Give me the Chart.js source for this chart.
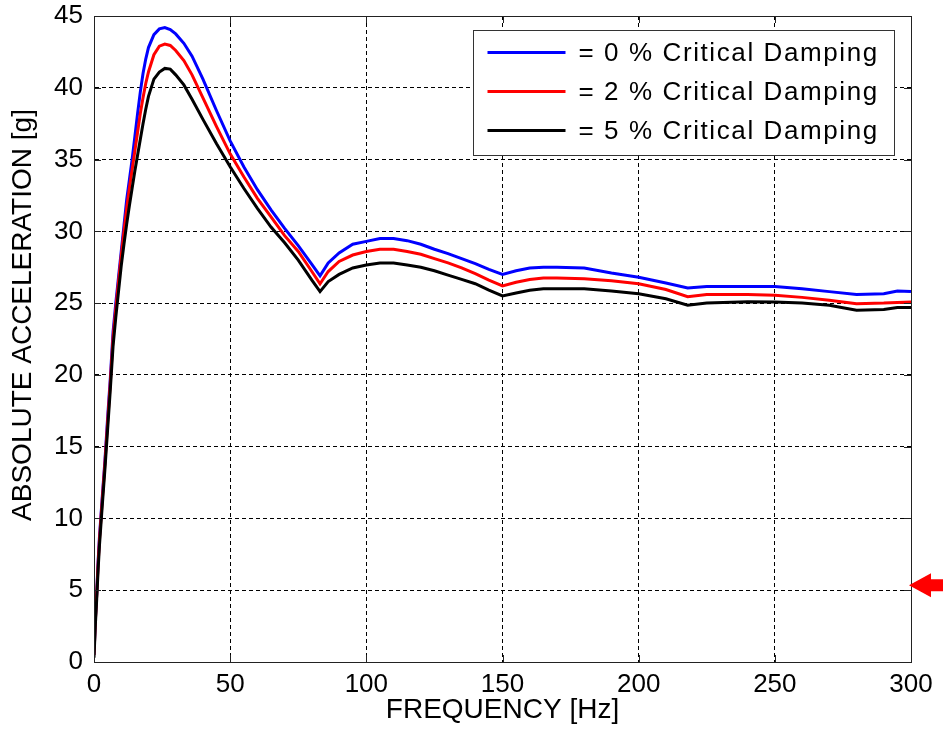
<!DOCTYPE html>
<html lang="en">
  <head>
    <meta charset="UTF-8" />
    <title>Absolute acceleration vs frequency</title>
    <script src="https://cdn.jsdelivr.net/npm/chart.js@4.4.1/dist/chart.umd.min.js"></script>
    <style>
      html, body { margin: 0; padding: 0; background: #fff; }
    </style>
  </head>
  <body>
    <canvas id="chart" width="943" height="742"></canvas>

    <script>
      //data
      const freq = [0, 0.5, 1, 1.5, 2, 3, 4, 5, 6, 7, 8, 9, 10, 11, 12, 13, 14, 15, 16, 17, 18, 19, 20,
        22, 24, 26, 28, 30, 33, 36, 40, 45, 50, 55, 60, 65, 70, 75, 80, 83,
        86, 90, 95, 100, 105, 110, 115, 120, 125, 130, 135, 140, 145, 150,
        155, 160, 165, 170, 180, 190, 200, 210, 218, 225, 240, 250, 260, 270, 280, 290, 295, 300];

      const damp0 = [0.5, 3.0, 4.8, 7, 8.7, 11.4, 14, 17, 19.8, 23, 25, 26.8, 28.6, 30.4, 32.2, 33.6, 35, 36.6, 38.2, 39.7, 41, 42, 42.8,
        43.7, 44.1, 44.2, 44.05, 43.75, 43.1, 42.2, 40.6, 38.4, 36.3, 34.5, 32.9, 31.5, 30.2, 29, 27.7, 26.9,
        27.8, 28.5, 29.1, 29.3, 29.5, 29.5, 29.35, 29.1, 28.75, 28.45, 28.1, 27.75, 27.35, 27.0,
        27.25, 27.45, 27.5, 27.5, 27.45, 27.1, 26.8, 26.4, 26.05, 26.15, 26.15, 26.15, 26.0, 25.8, 25.6, 25.65, 25.85, 25.8];

      const damp2 = [0.5, 2.9, 4.7, 6.8, 8.5, 11.2, 13.8, 16.7, 19.5, 22.6, 24.6, 26.5, 28.3, 30.0, 31.6, 33.0, 34.3, 35.6, 36.9, 38.2, 39.3, 40.3, 41.1,
        42.3, 42.9, 43.05, 42.95, 42.6, 41.9, 40.9, 39.3, 37.3, 35.4, 33.8, 32.3, 31, 29.7, 28.6, 27.2, 26.35,
        27.2, 27.9, 28.35, 28.6, 28.75, 28.75, 28.6, 28.4, 28.1, 27.8, 27.45, 27.05, 26.6, 26.2,
        26.45, 26.65, 26.75, 26.75, 26.7, 26.55, 26.35, 25.95, 25.45, 25.6, 25.6, 25.55, 25.4, 25.2, 24.95, 25.0, 25.05, 25.07];

      const damp5 = [0.3, 2.6, 4.4, 6.4, 8.1, 10.8, 13.4, 16.2, 19, 22, 24, 25.8, 27.6, 29.1, 30.5, 31.8, 33.0, 34.2, 35.3, 36.4, 37.5, 38.5, 39.4,
        40.6, 41.1, 41.35, 41.3, 40.9, 40.2, 39.2, 37.8, 36.1, 34.5, 33, 31.6, 30.3, 29.2, 28, 26.6, 25.8,
        26.5, 27.0, 27.45, 27.65, 27.8, 27.8, 27.65, 27.5, 27.25, 26.95, 26.65, 26.35, 25.9, 25.5,
        25.7, 25.9, 26.0, 26.0, 26.0, 25.85, 25.65, 25.3, 24.85, 25.0, 25.1, 25.07, 25.0, 24.85, 24.5, 24.55, 24.7, 24.7];

      const seriesLabels = ['= 0 % Critical Damping', '= 2 % Critical Damping', '= 5 % Critical Damping'];
      const seriesColors = ['#0000ff', '#ff0000', '#000000'];

      const FONT = '"Liberation Sans", Arial, Helvetica, sans-serif';

      const toPoints = (ys) => ys.map((y, i) => ({ x: freq[i], y: y }));

      //plugins
      // box + inward ticks on all four sides, like matlab axes
      const axesBox = {
        id: 'axesBox',
        afterDatasetsDraw(chart) {
          const { ctx, chartArea: a, scales } = chart;
          const len = 7;
          ctx.save();
          ctx.strokeStyle = '#222';
          ctx.lineWidth = 1;
          ctx.beginPath();
          scales.x.ticks.forEach((t) => {
            const px = Math.round(scales.x.getPixelForValue(t.value)) + 0.5;
            ctx.moveTo(px, a.top); ctx.lineTo(px, a.top + len);
            ctx.moveTo(px, a.bottom); ctx.lineTo(px, a.bottom - len);
          });
          scales.y.ticks.forEach((t) => {
            const py = Math.round(scales.y.getPixelForValue(t.value)) + 0.5;
            ctx.moveTo(a.left, py); ctx.lineTo(a.left + len, py);
            ctx.moveTo(a.right, py); ctx.lineTo(a.right - len, py);
          });
          ctx.stroke();
          ctx.strokeRect(Math.round(a.left) + 0.5, Math.round(a.top) + 0.5,
            Math.round(a.right - a.left), Math.round(a.bottom - a.top));
          ctx.restore();
        }
      };

      const boxLegend = {
        id: 'boxLegend',
        afterDraw(chart) {
          const { ctx, chartArea: a } = chart;
          const x0 = Math.round(a.right - 438) + 0.5;
          const y0 = Math.round(a.top + 14) + 0.5;
          ctx.save();
          ctx.fillStyle = '#fff';
          ctx.fillRect(x0, y0, 421, 125);
          ctx.strokeStyle = '#333';
          ctx.lineWidth = 1;
          ctx.strokeRect(x0, y0, 421, 125);
          ctx.font = '26px ' + FONT;
          ctx.letterSpacing = '1.6px';
          ctx.textBaseline = 'middle';
          chart.data.datasets.forEach((ds, i) => {
            const ry = y0 + 22 + i * 39;
            ctx.strokeStyle = ds.borderColor;
            ctx.lineWidth = 3;
            ctx.beginPath();
            ctx.moveTo(x0 + 14, ry);
            ctx.lineTo(x0 + 92, ry);
            ctx.stroke();
            ctx.fillStyle = '#000';
            ctx.fillText(ds.label, x0 + 105, ry + 1);
          });
          ctx.restore();
        }
      };

      // y axis title (sits a bit above centre in the original) and the red marker arrow
      const extras = {
        id: 'extras',
        afterDraw(chart) {
          const { ctx, scales } = chart;
          ctx.save();
          ctx.translate(23, 315);
          ctx.rotate(-Math.PI / 2);
          ctx.font = '28px ' + FONT;
          ctx.fillStyle = '#000';
          ctx.textAlign = 'center';
          ctx.textBaseline = 'middle';
          ctx.fillText('ABSOLUTE ACCELERATION [g]', 0, 0);
          ctx.restore();

          const yc = scales.y.getPixelForValue(5) - 5;
          const tip = chart.chartArea.right - 2;
          ctx.save();
          ctx.fillStyle = '#ff0000';
          ctx.beginPath();
          ctx.moveTo(tip, yc);
          ctx.lineTo(tip + 22, yc - 12);
          ctx.lineTo(tip + 22, yc - 6);
          ctx.lineTo(chart.width, yc - 6);
          ctx.lineTo(chart.width, yc + 6);
          ctx.lineTo(tip + 22, yc + 6);
          ctx.lineTo(tip + 22, yc + 12);
          ctx.closePath();
          ctx.fill();
          ctx.restore();
        }
      };

      //config
      const config = {
        type: 'line',
        data: {
          datasets: seriesLabels.map((label, i) => ({
            label: label,
            data: toPoints([damp0, damp2, damp5][i]),
            borderColor: seriesColors[i],
            backgroundColor: seriesColors[i],
            borderWidth: 3,
            pointRadius: 0,
            tension: 0,
            fill: false,
            order: 3 - i
          }))
        },
        options: {
          responsive: false,
          animation: false,
          layout: { padding: { left: 0, right: 32, top: 16, bottom: 0 } },
          plugins: {
            legend: { display: false },
            tooltip: { enabled: false }
          },
          scales: {
            x: {
              type: 'linear',
              min: 0,
              max: 300,
              afterFit: (s) => { s.height = 80; s.paddingLeft = 0; s.paddingRight = 0; },
              ticks: { stepSize: 50, color: '#000', padding: 7, font: { family: FONT, size: 26 } },
              grid: { color: '#000', lineWidth: 1, drawTicks: false },
              border: { display: true, color: '#222', dash: [4, 3] },
              title: {
                display: true,
                text: 'FREQUENCY [Hz]',
                color: '#000',
                font: { family: FONT, size: 28 },
                padding: { top: 0, bottom: 15 }
              }
            },
            y: {
              min: 0,
              max: 45,
              afterFit: (s) => { s.width = 94; s.paddingTop = 0; s.paddingBottom = 0; },
              ticks: { stepSize: 5, color: '#000', padding: 11, font: { family: FONT, size: 26 } },
              grid: { color: '#000', lineWidth: 1, drawTicks: false },
              border: { display: true, color: '#222', dash: [4, 3] }
            }
          }
        },
        plugins: [axesBox, boxLegend, extras]
      };

      //init
      const ctx = document.getElementById('chart');
      const chart = new Chart(ctx, config);
    </script>
  </body>
</html>
